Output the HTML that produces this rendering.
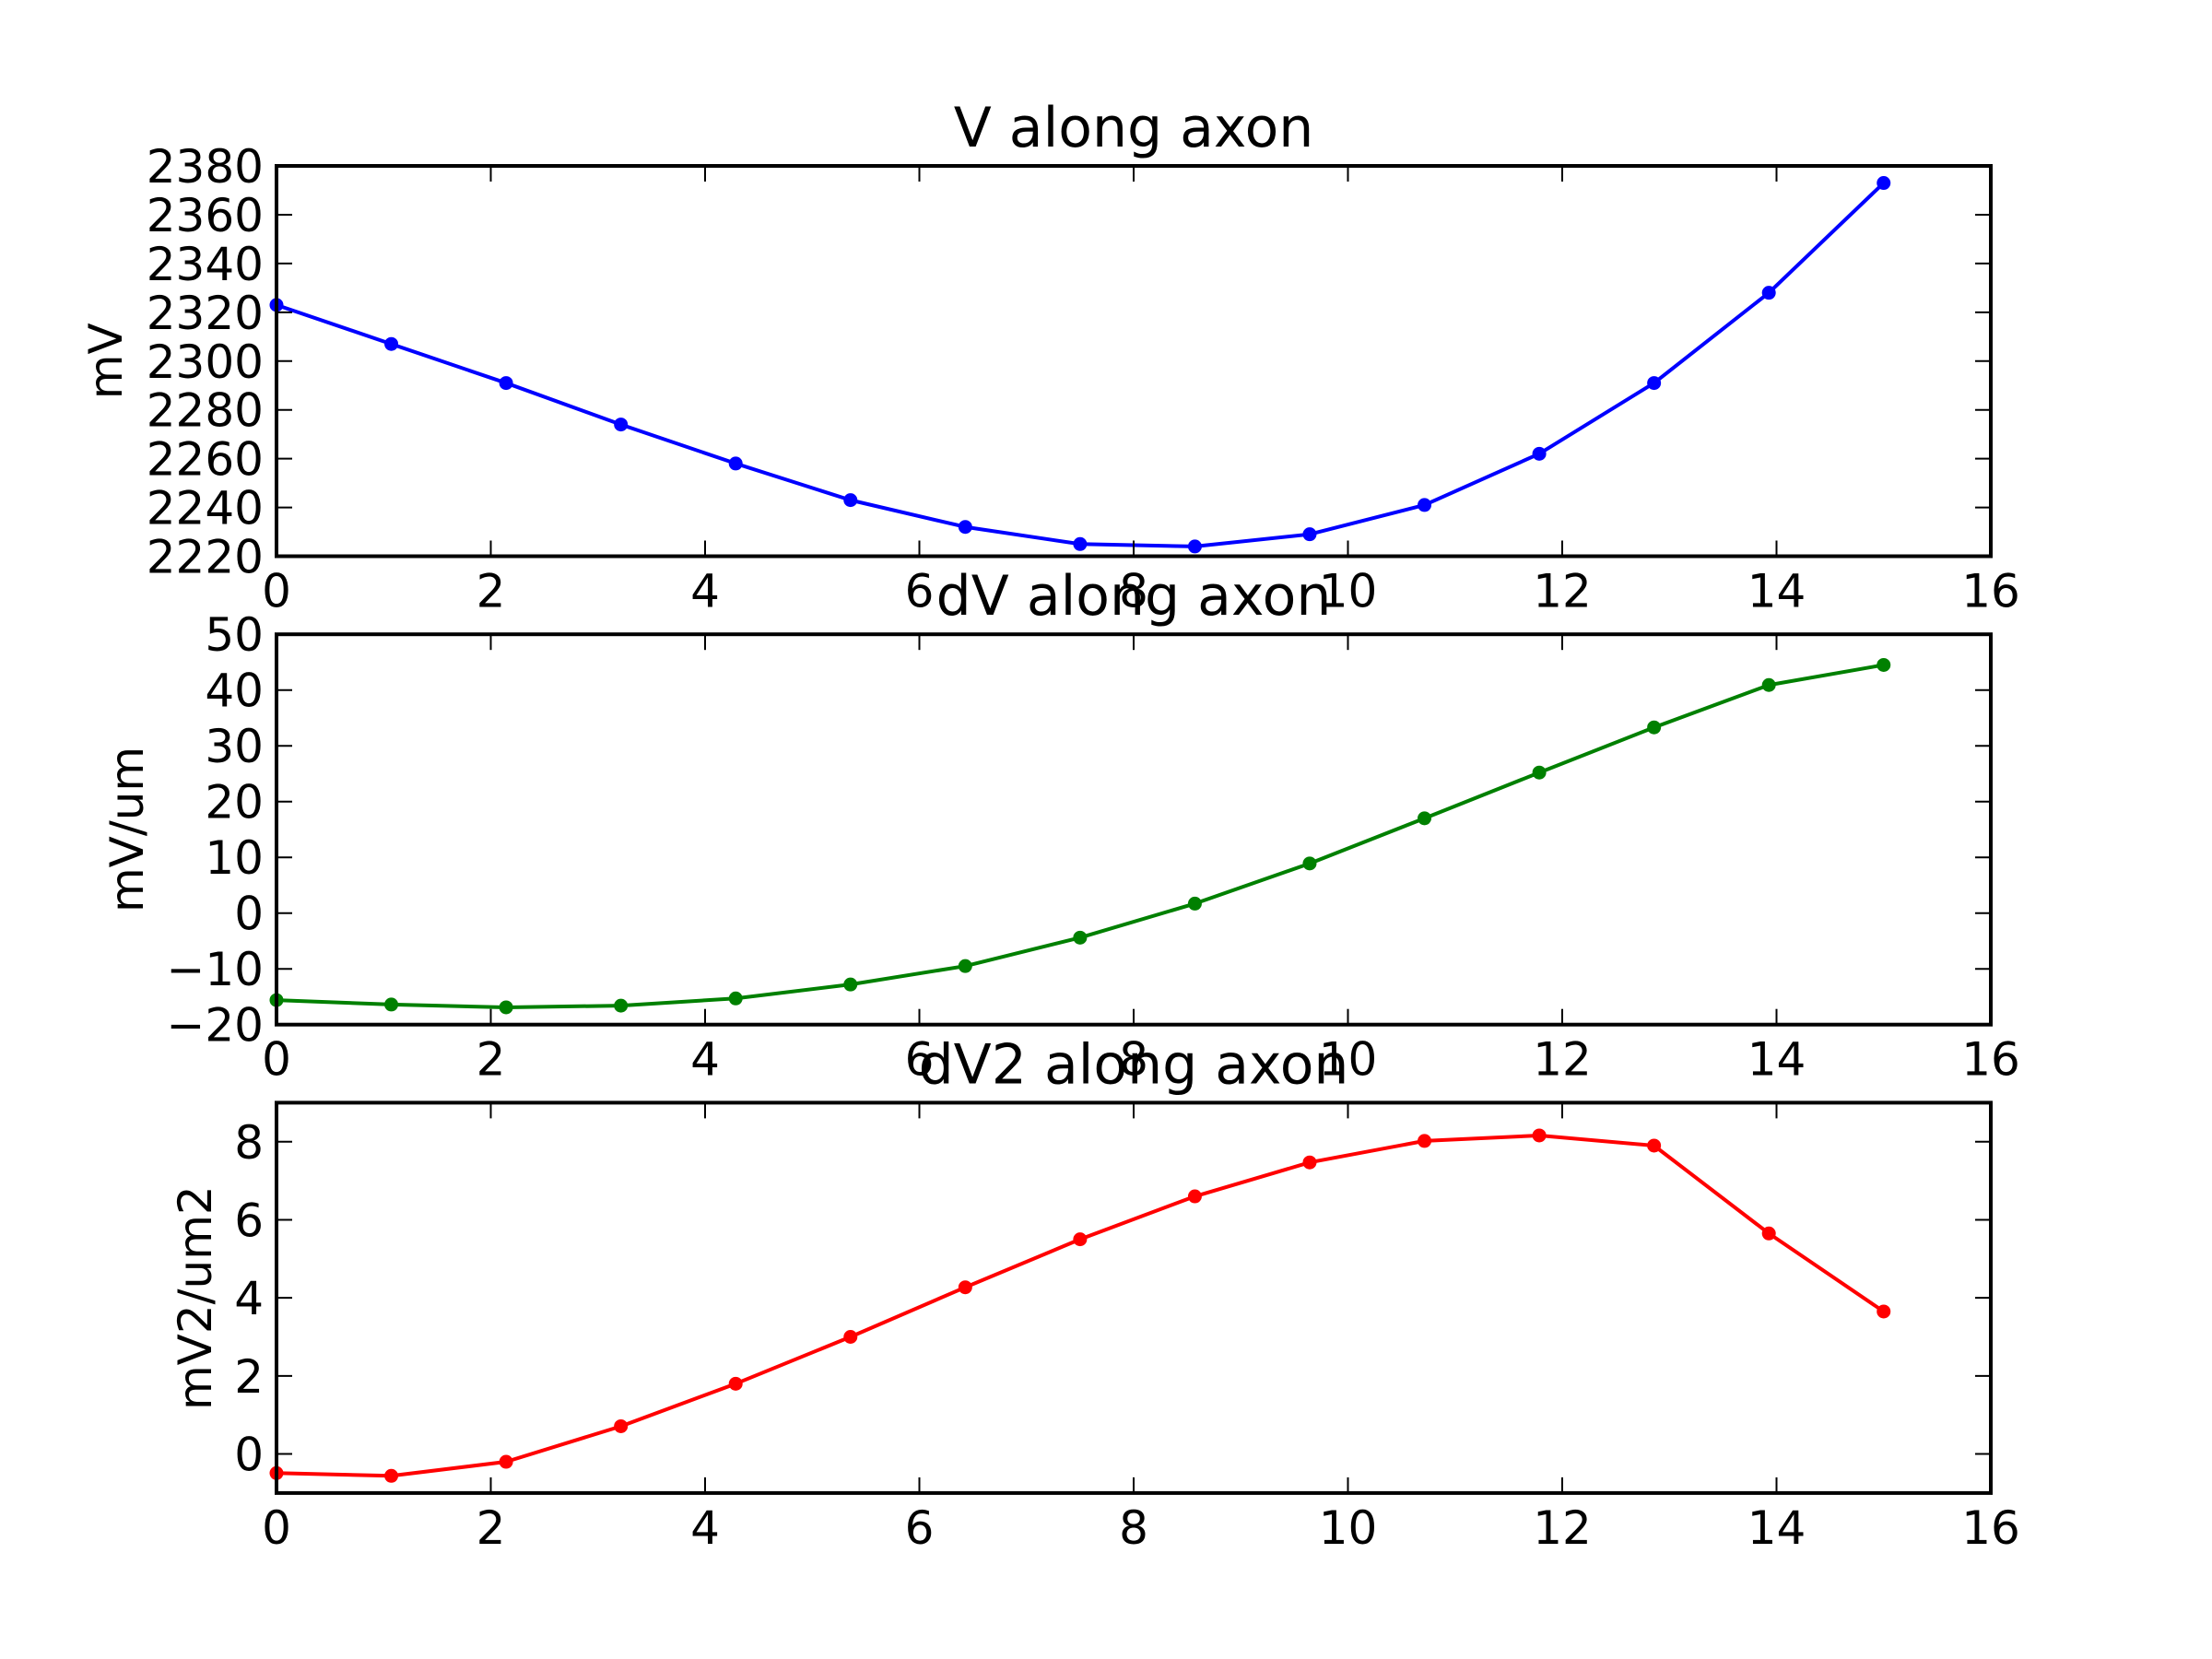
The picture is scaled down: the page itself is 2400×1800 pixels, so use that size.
<!DOCTYPE html>
<html><head><meta charset="utf-8"><style>
html,body{margin:0;padding:0;background:#fff;}
svg{display:block;font-family:"DejaVu Sans","Liberation Sans",sans-serif;}
</style></head><body>
<svg id="fig" width="2400" height="1800" viewBox="0 0 2400 1800" xmlns="http://www.w3.org/2000/svg"></svg>
<script>
const xTicks = [0,2,4,6,8,10,12,14,16];
const vVals = [2323,2307,2291,2274,2258,2243,2232,2225,2224,2229,2241,2262,2291,2328,2373];
const vTicks = [2220,2240,2260,2280,2300,2320,2340,2360,2380];
const dvVals = [-15.6,-16.4,-16.9,-16.6,-15.3,-12.8,-9.5,-4.4,1.7,8.9,17.0,25.2,33.3,40.9,44.5];
const dvTicks = [-20,-10,0,10,20,30,40,50];
const dv2Vals = [-0.49,-0.56,-0.2,0.71,1.8,3.0,4.27,5.5,6.6,7.47,8.02,8.16,7.9,5.65,3.65];
const dv2Ticks = [0,2,4,6,8];
const nPts = 15;
const xMax = 15;

const NS="http://www.w3.org/2000/svg";
const svg=document.getElementById('fig');
function mk(tag,attrs,parent){const e=document.createElementNS(NS,tag);for(const k in attrs)e.setAttribute(k,attrs[k]);(parent||svg).appendChild(e);return e;}

const L=300,R=2160,H=423.5,G=84.7,T0=180;
const panels=[
 {title:'V along axon',ylabel:'mV',vals:vVals,ticks:vTicks,ymin:2220,ymax:2380,color:'#0000ff',lx:115,name:'v'},
 {title:'dV along axon',ylabel:'mV/um',vals:dvVals,ticks:dvTicks,ymin:-20,ymax:50,color:'#008000',lx:138,name:'dv'},
 {title:'dV2 along axon',ylabel:'mV2/um2',vals:dv2Vals,ticks:dv2Ticks,ymin:-1,ymax:9,color:'#ff0000',lx:212,name:'dv2'}
];
panels.forEach((p,i)=>{
 const top=T0+i*(H+G), bot=top+H;
 const g=mk('g',{});
 
 
 const sx=x=>L+(x-0)/(16-0)*(R-L);
 const sy=y=>bot-(y-p.ymin)/(p.ymax-p.ymin)*H;
 // series
 const xs=p.vals.map((v,k)=>k*xMax/(nPts-1));
 const line=mk('polyline',{points:p.vals.map((v,k)=>sx(xs[k])+','+sy(v)).join(' '),fill:'none',stroke:p.color,'stroke-width':4,'stroke-linejoin':'round'},g);
 
 
 p.vals.forEach((v,k)=>{
  const c=mk('circle',{cx:sx(xs[k]),cy:sy(v),r:7.5,fill:p.color},g);
  
  
 });
 // ticks
 xTicks.forEach(t=>{
  const x=sx(t);
  mk('line',{x1:x,x2:x,y1:bot,y2:bot-17,stroke:'#000','stroke-width':2},g);
  mk('line',{x1:x,x2:x,y1:top,y2:top+17,stroke:'#000','stroke-width':2},g);
  const tx=mk('text',{x:x,y:bot+55,'font-size':50,'text-anchor':'middle'},g);
  tx.textContent=t;
  
  
 });
 p.ticks.forEach(t=>{
  const y=sy(t);
  mk('line',{x1:L,x2:L+17,y1:y,y2:y,stroke:'#000','stroke-width':2},g);
  mk('line',{x1:R,x2:R-17,y1:y,y2:y,stroke:'#000','stroke-width':2},g);
  const ty=mk('text',{x:L-14,y:y+18,'font-size':50,'text-anchor':'end'},g);
  ty.textContent=t<0?'\u2212'+(-t):t;
  
  
 });
 const fr=mk('rect',{x:L,y:top,width:R-L,height:H,fill:'none',stroke:'#000','stroke-width':4},g);
 
 
 const ti=mk('text',{x:(L+R)/2,y:top-21,'font-size':60,'text-anchor':'middle'},g);
 ti.textContent=p.title;
 
 
 const yl=mk('text',{x:0,y:0,'font-size':50,'text-anchor':'middle','dominant-baseline':'central',transform:'translate('+p.lx+','+((top+bot)/2)+') rotate(-90)'},g);
 yl.textContent=p.ylabel;
 
 
});
</script>
</body></html>
